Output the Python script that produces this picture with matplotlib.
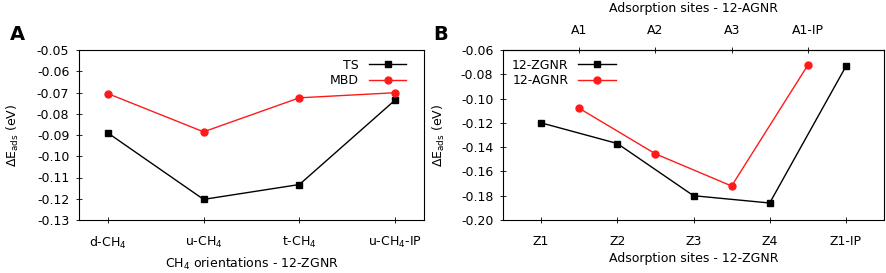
import matplotlib.pyplot as plt

# panel A: CH4 orientations on 12-ZGNR
orient = ['d-CH$_4$', 'u-CH$_4$', 't-CH$_4$', 'u-CH$_4$-IP']
ts = [-0.089, -0.1203, -0.1133, -0.0735]
mbd = [-0.0705, -0.0885, -0.0725, -0.0701]

# panel B: adsorption sites
z_sites = ['Z1', 'Z2', 'Z3', 'Z4', 'Z1-IP']
a_sites = ['A1', 'A2', 'A3', 'A1-IP']
zgnr = [-0.120, -0.137, -0.180, -0.186, -0.0735]
agnr = [-0.108, -0.1455, -0.172, -0.0725]

plt.rcParams['font.family'] = 'DejaVu Sans'
plt.rcParams['font.size'] = 9

fig = plt.figure(figsize=(8.86, 2.73), dpi=100)
axA = fig.add_axes([79/886, 1 - 220/273, (424-79)/886, 170/273])
axB = fig.add_axes([503/886, 1 - 220/273, (884-503)/886, 170/273])

xa = list(range(len(orient)))
axA.plot(xa, ts, '-s', color='black', lw=1, ms=5, label='TS')
axA.plot(xa, mbd, '-o', color='#ff1a1a', lw=1, ms=5, label='MBD')
axA.set_xlim(-0.3, 3.3)
axA.set_ylim(-0.13, -0.05)
axA.set_yticks([-0.13, -0.12, -0.11, -0.10, -0.09, -0.08, -0.07, -0.06, -0.05])
axA.set_yticklabels(['%.2f' % v for v in axA.get_yticks()])
axA.set_xticks(xa)
axA.set_xticklabels(orient)
axA.set_xlabel('CH$_4$ orientations - 12-ZGNR')
axA.set_ylabel(r'$\Delta$E$_{\mathrm{ads}}$ (eV)', labelpad=11)
axA.legend(loc='upper right', bbox_to_anchor=(0.974, 1.0), frameon=False,
           markerfirst=False, handlelength=3, borderaxespad=0.3,
           labelspacing=0.2)

xz = list(range(len(z_sites)))
xg = [i + 0.5 for i in range(len(a_sites))]
axB.plot(xz, zgnr, '-s', color='black', lw=1, ms=5, label='12-ZGNR')
axB.plot(xg, agnr, '-o', color='#ff1a1a', lw=1, ms=5, label='12-AGNR')
axB.set_xlim(-0.5, 4.5)
axB.set_ylim(-0.20, -0.06)
axB.set_yticks([-0.20, -0.18, -0.16, -0.14, -0.12, -0.10, -0.08, -0.06])
axB.set_yticklabels(['%.2f' % v for v in axB.get_yticks()])
axB.set_xticks(xz)
axB.set_xticklabels(z_sites)
axB.set_xlabel('Adsorption sites - 12-ZGNR')
axB.set_ylabel(r'$\Delta$E$_{\mathrm{ads}}$ (eV)', labelpad=10)
axB.legend(loc='upper left', frameon=False, markerfirst=False,
           handlelength=3, borderaxespad=0.3, labelspacing=0.2)

top = axB.secondary_xaxis('top')
top.set_xticks(xg)
top.set_xticklabels(a_sites)
top.tick_params(direction='inout', length=4, width=0.6, pad=7)
top.set_xlabel('Adsorption sites - 12-AGNR', labelpad=9)

for ax in (axA, axB):
    ax.tick_params(direction='inout', length=4, width=0.6, pad=5)
    ax.tick_params(axis='x', pad=9)
    ax.xaxis.labelpad = 3
    for s in ax.spines.values():
        s.set_linewidth(0.8)

fig.text(10/886, 1 - 35/273, 'A', fontsize=14, fontweight='bold', va='center')
fig.text(433/886, 1 - 35/273, 'B', fontsize=14, fontweight='bold', va='center')

fig.savefig('out.png', dpi=100)
